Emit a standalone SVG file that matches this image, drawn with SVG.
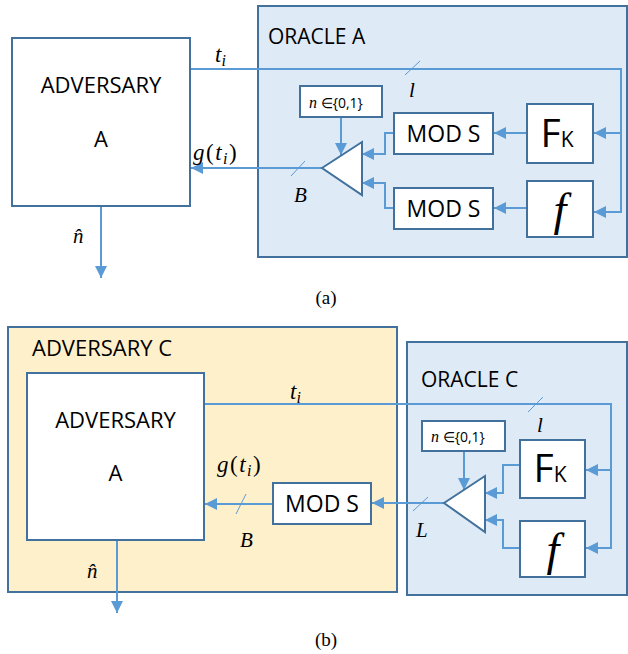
<svg xmlns="http://www.w3.org/2000/svg" width="628" height="654" viewBox="0 0 628 654">
  <defs>
    <marker id="arrow" viewBox="0 0 12 12" refX="12" refY="6" markerWidth="12" markerHeight="12" markerUnits="userSpaceOnUse" orient="auto">
      <path d="M0,0 L12,6 L0,12 Z" fill="#5B9BD5"/>
    </marker>
    <style>
      .box { fill: #FFFFFF; stroke: #41719C; stroke-width: 2; }
      .oracle { fill: #DEEAF6; stroke: #41719C; stroke-width: 2; }
      .advc { fill: #FFF0CC; stroke: #41719C; stroke-width: 2; }
      .wire { fill: none; stroke: #5B9BD5; stroke-width: 2; }
      .arr { marker-end: url(#arrow); }
      .slash { stroke: #5B9BD5; stroke-width: 1; }
      .lbl { font-family: "Open Sans", "Noto Sans", sans-serif; fill: #000000; }
      .math { font-family: "Liberation Serif", "DejaVu Serif", serif; font-style: italic; fill: #000000; }
      .up { font-style: normal; }
      .cap { font-family: "Liberation Serif", serif; font-size: 19px; fill: #000000; }
    </style>
  </defs>

  <!-- ===== (a) ===== -->
  <g id="oracle-a">
    <rect class="oracle" x="258" y="6" width="369" height="251"/>
    <text class="lbl" x="268" y="44" font-size="21">ORACLE A</text>
  </g>

  <g id="connectors-a">
    <path class="wire arr" d="M190,69 H621 V212 H594"/>
    <path class="wire arr" d="M621,133 H594"/>
    <path class="wire arr" d="M527,133 H494"/>
    <path class="wire arr" d="M527,208 H494"/>
    <path class="wire arr" d="M394,133 H385 V154 H362"/>
    <path class="wire arr" d="M394,208 H385 V183 H362"/>
    <path class="wire arr" d="M341,117 V155"/>
    <path class="wire arr" d="M322,168 H191"/>
    <path class="wire arr" d="M101,206 V278"/>
    <line class="slash" x1="405" y1="75" x2="420" y2="61"/>
    <line class="slash" x1="291" y1="176" x2="305" y2="161"/>
  </g>

  <g id="adversary-a">
    <rect class="box" x="12" y="38" width="178" height="168"/>
    <text class="lbl" x="101" y="93" font-size="22" text-anchor="middle">ADVERSARY</text>
    <text class="lbl" x="101" y="147" font-size="22" text-anchor="middle">A</text>
  </g>

  <g id="labels-a">
    <text class="math" x="215" y="62" font-size="23">t<tspan font-size="16" dy="4">i</tspan></text>
    <text class="math" x="409" y="97" font-size="21">l</text>
    <text class="math" x="193" y="160" font-size="23" letter-spacing="1.5">g<tspan class="up">(</tspan>t<tspan font-size="16" dy="4">i</tspan><tspan class="up" dy="-4">)</tspan></text>
    <text class="math" x="294" y="202" font-size="21">B</text>
    <text class="math" x="73" y="243" font-size="21">n&#770;</text>
  </g>

  <g id="select-a">
    <rect class="box" x="300" y="86" width="82" height="31"/>
    <text x="309" y="108" font-size="16"><tspan class="math">n</tspan><tspan class="lbl" font-size="14"> ∈{0,1}</tspan></text>
  </g>

  <g id="mux-a">
    <path class="box" d="M322,168 L362,142 L362,195 Z"/>
  </g>

  <g id="mod-a1">
    <rect class="box" x="394" y="113" width="99" height="41"/>
    <text class="lbl" x="443.5" y="142" font-size="23" text-anchor="middle">MOD S</text>
  </g>
  <g id="mod-a2">
    <rect class="box" x="394" y="188" width="99" height="41"/>
    <text class="lbl" x="443.5" y="217" font-size="23" text-anchor="middle">MOD S</text>
  </g>

  <g id="fk-a">
    <rect class="box" x="527" y="104" width="66" height="59"/>
    <text class="lbl" x="557" y="147" font-size="39" text-anchor="middle">F<tspan font-size="21">K</tspan></text>
  </g>
  <g id="f-a">
    <rect class="box" x="527" y="181" width="66" height="56"/>
    <text class="math" x="560" y="225" font-size="46" text-anchor="middle">f</text>
  </g>

  <text class="cap" x="326" y="304" text-anchor="middle">(a)</text>

  <!-- ===== (b) ===== -->
  <g id="adversary-c">
    <rect class="advc" x="8" y="327" width="389" height="265"/>
    <text class="lbl" x="32" y="356" font-size="22">ADVERSARY C</text>
  </g>

  <g id="oracle-c">
    <rect class="oracle" x="407" y="342" width="220" height="253"/>
    <text class="lbl" x="421" y="387" font-size="21">ORACLE C</text>
  </g>

  <g id="connectors-b">
    <path class="wire arr" d="M204,404 H611 V548 H586"/>
    <path class="wire arr" d="M611,470 H586"/>
    <path class="wire arr" d="M520,465 H503 V493 H485"/>
    <path class="wire arr" d="M520,548 H503 V520 H485"/>
    <path class="wire arr" d="M464,451 V490"/>
    <path class="wire arr" d="M444,503 H372"/>
    <path class="wire arr" d="M273,504 H205"/>
    <path class="wire arr" d="M117,540 V613"/>
    <line class="slash" x1="528" y1="412" x2="543" y2="397"/>
    <line class="slash" x1="413" y1="511" x2="428" y2="497"/>
    <line class="slash" x1="236" y1="514" x2="246" y2="494"/>
  </g>

  <g id="adversary-b">
    <rect class="box" x="27" y="373" width="177" height="167"/>
    <text class="lbl" x="115.5" y="428" font-size="22" text-anchor="middle">ADVERSARY</text>
    <text class="lbl" x="115.5" y="481" font-size="22" text-anchor="middle">A</text>
  </g>

  <g id="labels-b">
    <text class="math" x="290" y="399" font-size="23">t<tspan font-size="16" dy="4">i</tspan></text>
    <text class="math" x="537" y="432" font-size="21">l</text>
    <text class="math" x="217" y="472" font-size="23" letter-spacing="1.5">g<tspan class="up">(</tspan>t<tspan font-size="16" dy="4">i</tspan><tspan class="up" dy="-4">)</tspan></text>
    <text class="math" x="240" y="547" font-size="21">B</text>
    <text class="math" x="416" y="537" font-size="21">L</text>
    <text class="math" x="87" y="578" font-size="21">n&#770;</text>
  </g>

  <g id="mod-b">
    <rect class="box" x="273" y="483" width="98" height="41"/>
    <text class="lbl" x="322" y="512" font-size="23" text-anchor="middle">MOD S</text>
  </g>

  <g id="select-b">
    <rect class="box" x="422" y="421" width="83" height="30"/>
    <text x="431" y="442" font-size="16"><tspan class="math">n</tspan><tspan class="lbl" font-size="14"> ∈{0,1}</tspan></text>
  </g>

  <g id="mux-b">
    <path class="box" d="M444,503 L485,476 L485,532 Z"/>
  </g>

  <g id="fk-b">
    <rect class="box" x="520" y="440" width="65" height="58"/>
    <text class="lbl" x="550" y="482" font-size="39" text-anchor="middle">F<tspan font-size="21">K</tspan></text>
  </g>
  <g id="f-b">
    <rect class="box" x="520" y="521" width="65" height="56"/>
    <text class="math" x="553" y="565" font-size="46" text-anchor="middle">f</text>
  </g>

  <text class="cap" x="326" y="646" text-anchor="middle">(b)</text>
</svg>
